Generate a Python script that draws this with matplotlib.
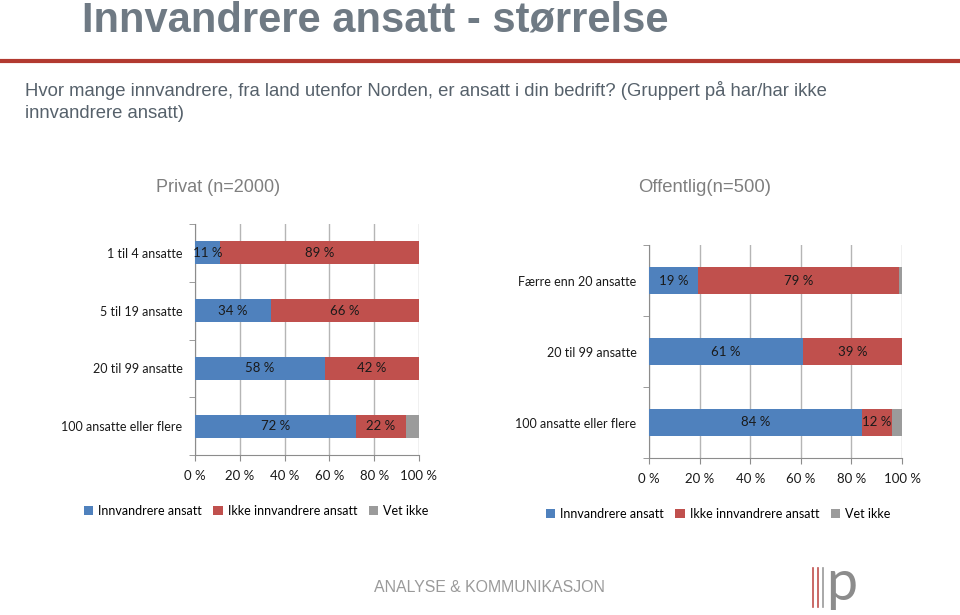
import numpy as np
import matplotlib
matplotlib.use('Agg')
import matplotlib.pyplot as plt
from matplotlib.patches import Patch

# data
priv_cats = ['1 til 4 ansatte', '5 til 19 ansatte', '20 til 99 ansatte', '100 ansatte eller flere']
priv_inn = [11, 34, 58, 72]
priv_ikke = [89, 66, 42, 22]
priv_vet = [0, 0, 0, 6]

off_cats = ['Færre enn 20 ansatte', '20 til 99 ansatte', '100 ansatte eller flere']
off_inn = [19.4, 61, 84]
off_ikke = [79.4, 39, 12]
off_vet = [1.2, 0, 4]

series_names = ['Innvandrere ansatt', 'Ikke innvandrere ansatt', 'Vet ikke']
colors = ['#4f81bd', '#c0504d', '#9b9b9b']
xticks = [0, 20, 40, 60, 80, 100]

narrow = ['Liberation Sans Narrow', 'Liberation Sans', 'DejaVu Sans']
body = ['Lato', 'DejaVu Sans']

W, H = 960, 615
fig = plt.figure(figsize=(W / 100, H / 100), dpi=100)


def box(x0, y0, x1, y1):
    return [x0 / W, 1 - y1 / H, (x1 - x0) / W, (y1 - y0) / H]


def stacked(ax, cats, inn, ikke, vet, bh):
    y = np.arange(len(cats))
    left = np.zeros(len(cats))
    for vals, col in zip([inn, ikke, vet], colors):
        vals = np.array(vals, dtype=float)
        bars = ax.barh(y, vals, left=left, height=bh, color=col, zorder=3)
        if col != colors[2]:
            for b, v in zip(bars, vals):
                if v > 0:
                    ax.text(b.get_x() + b.get_width() / 2, b.get_y() + b.get_height() / 2,
                            '%d %%' % round(v), ha='center', va='center',
                            fontsize=9.5, color='#1a1a1a', family=body, zorder=4)
        left = left + vals
    ax.set_xlim(0, 100)
    ax.set_ylim(len(cats) - 0.5, -0.5)
    ax.set_xticks(xticks)
    ax.set_xticklabels(['%d %%' % t for t in xticks], family=body, fontsize=9.5, color='#1a1a1a')
    ax.set_yticks(y)
    ax.set_yticklabels(cats, family=body, fontsize=9, color='#1a1a1a')
    ax.set_yticks(np.arange(len(cats) + 1) - 0.5, minor=True)
    ax.tick_params(axis='y', which='major', length=0, pad=9)
    ax.tick_params(axis='y', which='minor', length=4, color='#8c8c8c')
    ax.tick_params(axis='x', length=4, color='#8c8c8c', pad=7)
    ax.grid(True, axis='x', color='#b5b5b5', linewidth=1, zorder=0)
    for s in ['top', 'right']:
        ax.spines[s].set_visible(False)
    for s in ['left', 'bottom']:
        ax.spines[s].set_color('#8c8c8c')
    return ax


ax1 = fig.add_axes(box(195, 224, 419, 455))
stacked(ax1, priv_cats, priv_inn, priv_ikke, priv_vet, 0.4)
ax2 = fig.add_axes(box(649, 245, 902, 458))
stacked(ax2, off_cats, off_inn, off_ikke, off_vet, 0.39)

handles = [Patch(facecolor=c, edgecolor='none') for c in colors]
for x, y in [(85, 511), (547, 514)]:
    fig.legend(handles, series_names, loc='center left', bbox_to_anchor=(x / W - 0.001, 1 - y / H),
               ncol=3, frameon=False, prop={'family': body, 'size': 9},
               handlelength=0.75, handleheight=0.75, handletextpad=0.4,
               columnspacing=0.9, borderpad=0, borderaxespad=0)

# header
fig.text(82 / W, 1 - 21 / H, 'Innvandrere ansatt - størrelse', family=narrow, weight='bold',
         fontsize=30, color='#6f7a84', va='center', ha='left')
fig.add_artist(plt.Line2D([0, 1], [1 - 60.5 / H] * 2, color='#b23a30', linewidth=3))
fig.text(25 / W, 1 - 91 / H, 'Hvor mange innvandrere, fra land utenfor Norden, er ansatt i din bedrift? (Gruppert på har/har ikke',
         family=narrow, fontsize=13.3, color='#56616b', va='center')
fig.text(25 / W, 1 - 113 / H, 'innvandrere ansatt)', family=narrow, fontsize=13.3, color='#56616b', va='center')
fig.text(218 / W, 1 - 188 / H, 'Privat (n=2000)', family=narrow, fontsize=13, color='#7f7f7f',
         ha='center', va='center')
fig.text(705 / W, 1 - 188 / H, 'Offentlig(n=500)', family=narrow, fontsize=13.3, color='#7f7f7f',
         ha='center', va='center')

# footer logo
fig.text(374 / W, 1 - 587 / H, 'ANALYSE & KOMMUNIKASJON', family=['Liberation Sans', 'DejaVu Sans'],
         fontsize=11.4, color='#9a9a9a', va='center')
for lx, lc in [(813, '#c0504d'), (817.5, '#c0504d'), (822.5, '#9a9a9a')]:
    fig.add_artist(plt.Line2D([lx / W] * 2, [1 - 607 / H, 1 - 568 / H], color=lc, linewidth=1.2))
fig.text(826 / W, 1 - 585 / H, 'p', family=['Lato', 'DejaVu Sans'], fontsize=40, color='#8c8c8c',
         va='center', ha='left')

fig.savefig('out.png', dpi=100)
